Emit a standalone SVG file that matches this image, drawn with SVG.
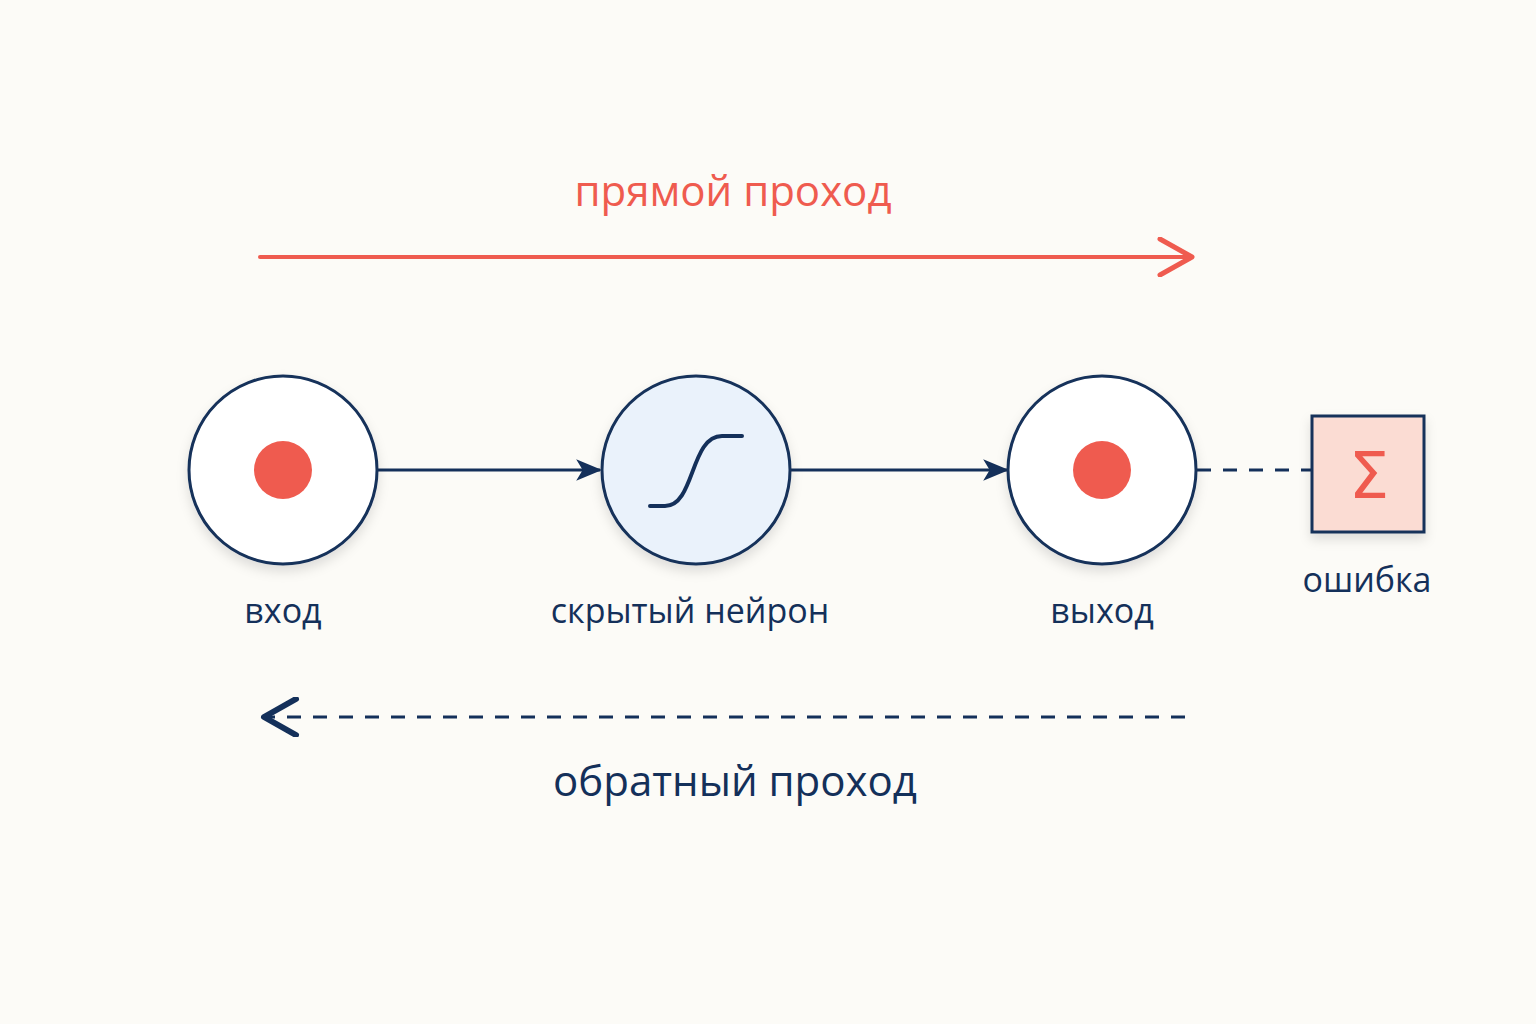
<svg xmlns="http://www.w3.org/2000/svg" width="1536" height="1024" viewBox="0 0 1536 1024">
<defs>
<marker id="ab" viewBox="0 0 12 12" refX="11" refY="6" markerWidth="26" markerHeight="26" markerUnits="userSpaceOnUse" orient="auto"><path d="M0,1 L12,6 L0,11 L3,6 Z" fill="#14305a"/></marker>
<marker id="ar" viewBox="0 0 20 20" refX="18" refY="10" markerWidth="40" markerHeight="40" markerUnits="userSpaceOnUse" orient="auto"><path d="M2,1 L18,10 L2,19" fill="none" stroke="#ef5b4f" stroke-width="2.5" stroke-linecap="round" stroke-linejoin="round"/></marker>
<marker id="al" viewBox="0 0 20 20" refX="18" refY="10" markerWidth="40" markerHeight="40" markerUnits="userSpaceOnUse" orient="auto"><path d="M2,1 L18,10 L2,19" fill="none" stroke="#14305a" stroke-width="3" stroke-linecap="round" stroke-linejoin="round"/></marker>
<filter id="sh" x="-20%" y="-20%" width="140%" height="150%"><feDropShadow dx="0" dy="6" stdDeviation="6" flood-color="#000" flood-opacity="0.12"/></filter>
</defs>
<style>
.lbl{font-family:"Open Sans","Noto Sans",sans-serif;font-size:34px;font-weight:500;fill:#14305a;text-anchor:middle}
.node{stroke:#14305a;stroke-width:3}
</style>
<rect width="1536" height="1024" fill="#fcfbf7"/>
<text x="733" y="206" class="lbl" style="fill:#ef5b4f;font-size:42px">прямой проход</text>
<text x="735" y="796" class="lbl" style="font-size:42px">обратный проход</text>
<g id="connectors">
<line x1="260" y1="257" x2="1192" y2="257" stroke="#ef5b4f" stroke-width="4" stroke-linecap="round" marker-end="url(#ar)"/>
<line x1="1185" y1="717" x2="264" y2="717" stroke="#14305a" stroke-width="3" stroke-dasharray="14 12" marker-end="url(#al)"/>
<line x1="378" y1="470" x2="600" y2="470" stroke="#14305a" stroke-width="3" marker-end="url(#ab)"/>
<line x1="791" y1="470" x2="1007" y2="470" stroke="#14305a" stroke-width="3" marker-end="url(#ab)"/>
<line x1="1197" y1="470" x2="1311" y2="470" stroke="#14305a" stroke-width="3" stroke-dasharray="14 12"/>
</g>
<g id="input">
<circle cx="283" cy="470" r="94" fill="#fff" class="node" filter="url(#sh)"/>
<circle cx="283" cy="470" r="29" fill="#ef5b4f"/>
<text x="283" y="623" class="lbl">вход</text>
</g>
<g id="hidden">
<circle cx="696" cy="470" r="94" fill="#eaf2fb" class="node" filter="url(#sh)"/>
<path d="M650,506 L665,506 C695,506 690,436 722,436 L742,436" fill="none" stroke="#14305a" stroke-width="4" stroke-linecap="round"/>
<text x="690" y="623" class="lbl">скрытый нейрон</text>
</g>
<g id="output">
<circle cx="1102" cy="470" r="94" fill="#fff" class="node" filter="url(#sh)"/>
<circle cx="1102" cy="470" r="29" fill="#ef5b4f"/>
<text x="1102" y="623" class="lbl">выход</text>
</g>
<g id="error">
<rect x="1312" y="416" width="112" height="116" fill="#fbdcd3" class="node" filter="url(#sh)"/>
<text x="1369" y="498" class="lbl" style="fill:#ef5b4f;font-size:64px;font-weight:400;font-family:'DejaVu Sans',sans-serif">Σ</text>
<text x="1367" y="592" class="lbl">ошибка</text>
</g>
</svg>
